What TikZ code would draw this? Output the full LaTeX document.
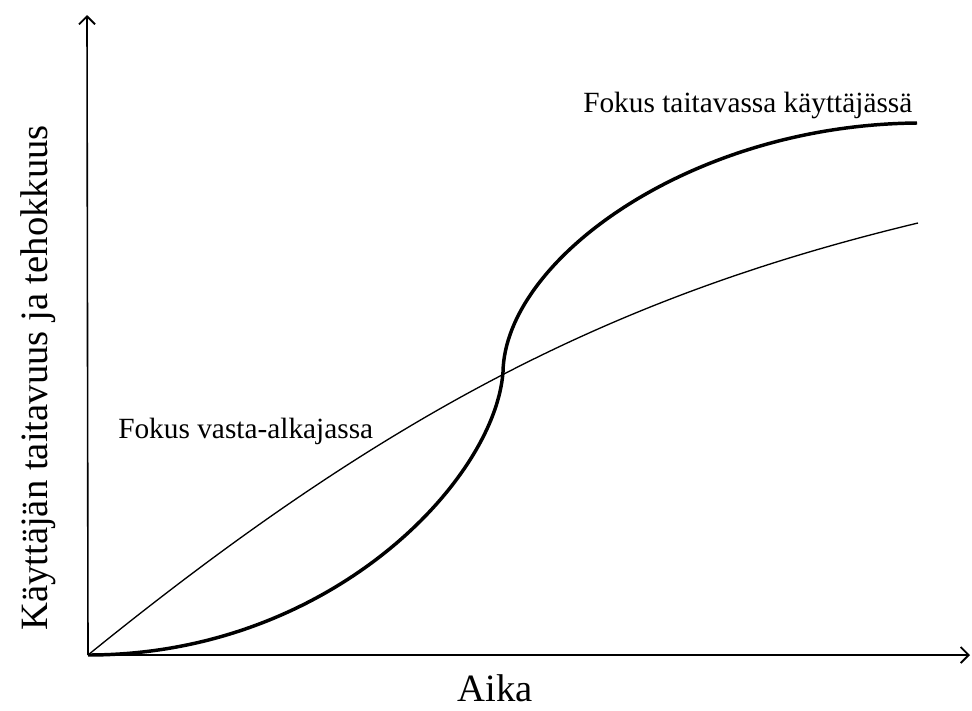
\documentclass[tikz,border=0pt]{standalone}
\usepackage{fontspec}
\setmainfont{Liberation Serif}
\usetikzlibrary{arrows.meta}

\begin{document}
\begin{tikzpicture}[x=0.75pt,y=-0.75pt]
\useasboundingbox (0,0) rectangle (972,711);
\coordinate (o) at (88,655);
\coordinate (ytip) at (87,15);
\coordinate (xtip) at (970,655);
\coordinate (cross) at (503,372);
\coordinate (e1) at (917,123);
\coordinate (e2) at (918,223);
\draw[line width=1.2pt,-{Straight Barb[length=6pt,width=12pt,line width=1.4pt]}] (o) -- (ytip);
\draw[line width=1.2pt,-{Straight Barb[length=6pt,width=12pt,line width=1.4pt]}] (o) -- (xtip);
\draw[line width=1pt] (o) .. controls (390,410) and (618,295) .. (e2);
\draw[line width=2.6pt] (o) .. controls (330,655) and (495,480) .. (cross)
  .. controls (505,260) and (690,125) .. (e1);
\node[anchor=base west,font=\fontsize{22}{26}\selectfont,inner sep=0pt] (lab1) at (583,112) {Fokus taitavassa käyttäjässä};
\node[anchor=base west,font=\fontsize{22}{26}\selectfont,inner sep=0pt] (lab2) at (118,438) {Fokus vasta-alkajassa};
\node[anchor=base,font=\fontsize{29}{34}\selectfont,inner sep=0pt] (xlab) at (495,701) {Aika};
\node[rotate=90,font=\fontsize{29}{34}\selectfont,inner sep=0pt] (ylab) at (38,378) {Käyttäjän taitavuus ja tehokkuus};
\end{tikzpicture}
\end{document}
